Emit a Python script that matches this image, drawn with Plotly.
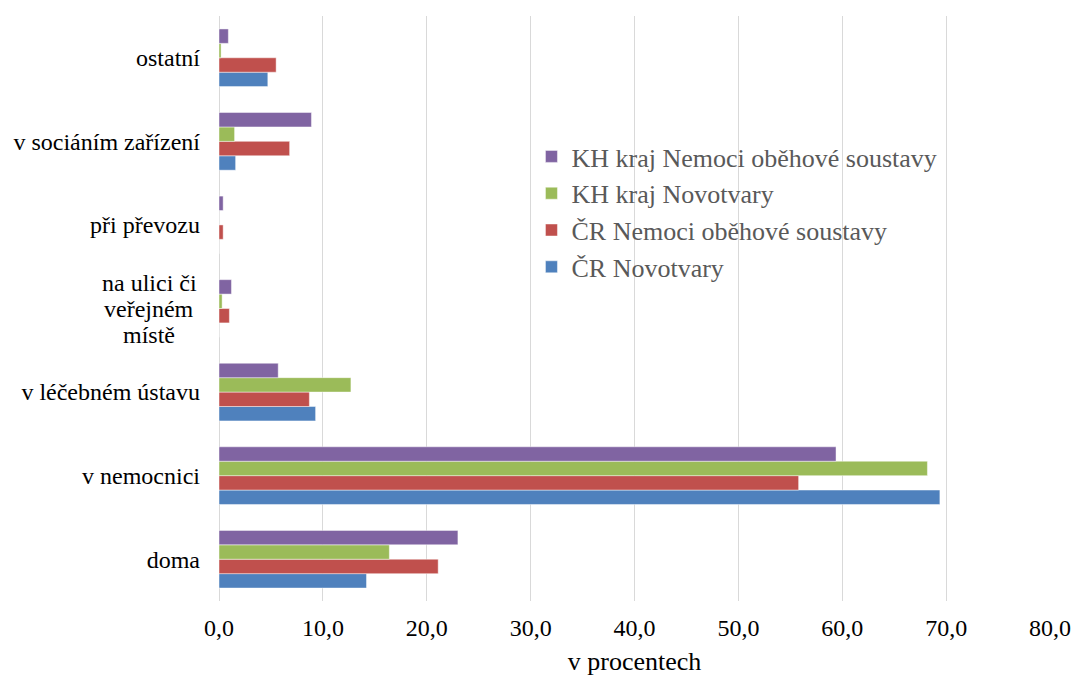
import plotly.graph_objects as go

categories = ["doma", "v nemocnici", "v léčebném ústavu", "na ulici či veřejném místě",
              "při převozu", "v sociáním zařízení", "ostatní"]
tick_labels = ["doma", "v nemocnici", "v léčebném ústavu", "",
               "při převozu", "v sociáním zařízení", "ostatní"]
multiline_label_lines = ["na ulici či", "veřejném", "místě"]

series_names = ["ČR Novotvary", "ČR Nemoci oběhové soustavy",
                "KH kraj Novotvary", "KH kraj Nemoci oběhové soustavy"]
cr_novotvary = [14.2, 69.4, 9.3, 0.0, 0.0, 1.6, 4.7]
cr_obehove = [21.1, 55.8, 8.7, 1.0, 0.4, 6.8, 5.5]
kh_novotvary = [16.4, 68.2, 12.7, 0.3, 0.0, 1.5, 0.2]
kh_obehove = [23.0, 59.4, 5.7, 1.2, 0.4, 8.9, 0.9]
series_values = [cr_novotvary, cr_obehove, kh_novotvary, kh_obehove]
colors = ["#4F81BD", "#C0504D", "#9BBB59", "#8064A2"]

x_ticks = [0, 10, 20, 30, 40, 50, 60, 70, 80]

FONT = "Liberation Serif, Tinos, Times New Roman, serif"

fig = go.Figure()
for i, (name, vals, col) in enumerate(zip(series_names, series_values, colors)):
    fig.add_trace(go.Bar(
        y=categories, x=vals, name=name, orientation="h",
        marker=dict(color=col, line=dict(color="rgba(255,255,255,0.45)", width=1)),
        legendgroup=f"g{i}",
    ))

# multi-line category label, centred like the original (tight line spacing)
for k, line in enumerate(multiline_label_lines):
    fig.add_annotation(x=-0.084, xref="paper", y=categories[3], yref="y",
                       yshift=26 * (1 - k),
                       text=line, showarrow=False, xanchor="center",
                       align="center", font=dict(family=FONT, size=24, color="#000000"))

fig.update_layout(
    width=1071, height=678,
    margin=dict(l=219, r=21, t=16, b=77, autoexpand=False),
    paper_bgcolor="white", plot_bgcolor="white",
    separators=", ",
    barmode="group", bargap=0.31, bargroupgap=0,
    font=dict(family=FONT, size=24, color="#000000"),
    legend=dict(
        x=0.376, y=0.80, xanchor="left", yanchor="top",
        traceorder="reversed", tracegroupgap=4,
        font=dict(family=FONT, size=26, color="#595959"),
        bgcolor="rgba(0,0,0,0)",
    ),
    xaxis=dict(
        range=[0, 80], tickvals=x_ticks, tickformat=".1f", automargin=False,
        ticklabeloverflow="allow",
        showgrid=True, gridcolor="#d9d9d9", gridwidth=1.3,
        zeroline=True, zerolinecolor="#d9d9d9", zerolinewidth=1.3,
        showline=False, ticks="", ticklabelstandoff=10,
        tickfont=dict(family=FONT, size=24, color="#000000"),
        title=dict(text="v procentech", standoff=11,
                   font=dict(family=FONT, size=26, color="#000000")),
    ),
    yaxis=dict(
        categoryorder="array", categoryarray=categories, automargin=False,
        tickvals=categories, ticktext=tick_labels,
        showgrid=False, showline=False, ticks="", ticklabelstandoff=18,
        tickfont=dict(family=FONT, size=24, color="#000000"),
    ),
)

fig.write_html(
    "out.html",
    config={"displayModeBar": False},
    post_script="document.body.style.margin='0';document.body.style.overflow='hidden';",
)
